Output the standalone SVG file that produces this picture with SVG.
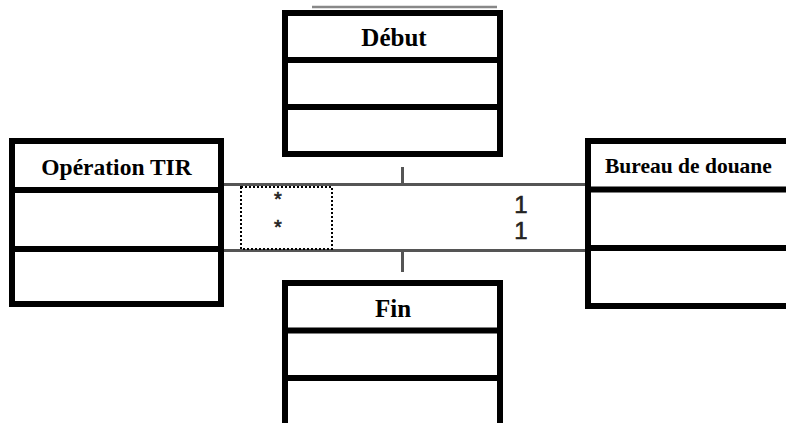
<svg xmlns="http://www.w3.org/2000/svg" width="786" height="423" viewBox="0 0 786 423">
<style>
.box{fill:#fff;stroke:#000;stroke-width:6}
.div{stroke:#000;stroke-width:6}
.t{font-family:"Liberation Serif","Times New Roman",serif;font-weight:bold;fill:#000}
.conn{stroke:#555;stroke-width:3;fill:none}
.m{font-family:"Liberation Sans",Arial,sans-serif;fill:#222;stroke:#222;stroke-width:0.6}
</style>
<rect width="786" height="423" fill="#fff"/>
<g id="connectors">
<line class="conn" x1="224" y1="184.5" x2="585" y2="184.5"/>
<line class="conn" x1="224" y1="250.5" x2="585" y2="250.5"/>
<line class="conn" x1="402.5" y1="167" x2="402.5" y2="184"/>
<line class="conn" x1="402.5" y1="251" x2="402.5" y2="272"/>
<line x1="312" y1="7" x2="497" y2="7" stroke="#888" stroke-width="2.5"/>
<rect x="241" y="187" width="91" height="62" fill="none" stroke="#000" stroke-width="2" stroke-dasharray="2,2"/>
<text class="m" x="278" y="206" font-size="20" text-anchor="middle">*</text>
<text class="m" x="278" y="234" font-size="20" text-anchor="middle">*</text>
<text class="m" x="521" y="213" font-size="24" text-anchor="middle">1</text>
<text class="m" x="521" y="239" font-size="24" text-anchor="middle">1</text>
</g>
<g id="debut">
<rect class="box" x="285" y="13" width="215" height="141"/>
<line class="div" x1="285" y1="60" x2="500" y2="60"/>
<line class="div" x1="285" y1="107" x2="500" y2="107"/>
<text class="t" x="394" y="46" font-size="25" text-anchor="middle">Début</text>
</g>
<g id="operation-tir">
<rect class="box" x="12" y="141" width="209" height="163"/>
<line class="div" x1="12" y1="190" x2="221" y2="190"/>
<line class="div" x1="12" y1="249" x2="221" y2="249"/>
<text class="t" x="116.5" y="175" font-size="23.5" text-anchor="middle">Opération TIR</text>
</g>
<g id="bureau-de-douane">
<rect class="box" x="588" y="141" width="220" height="165"/>
<line class="div" x1="588" y1="189.5" x2="800" y2="189.5"/>
<line class="div" x1="588" y1="248" x2="800" y2="248"/>
<text class="t" x="605" y="173" font-size="21.5">Bureau de douane</text>
</g>
<g id="fin">
<rect class="box" x="285" y="283" width="215" height="200"/>
<line class="div" x1="285" y1="330.5" x2="500" y2="330.5"/>
<line class="div" x1="285" y1="378" x2="500" y2="378"/>
<text class="t" x="393" y="317" font-size="25" text-anchor="middle">Fin</text>
</g>
</svg>
